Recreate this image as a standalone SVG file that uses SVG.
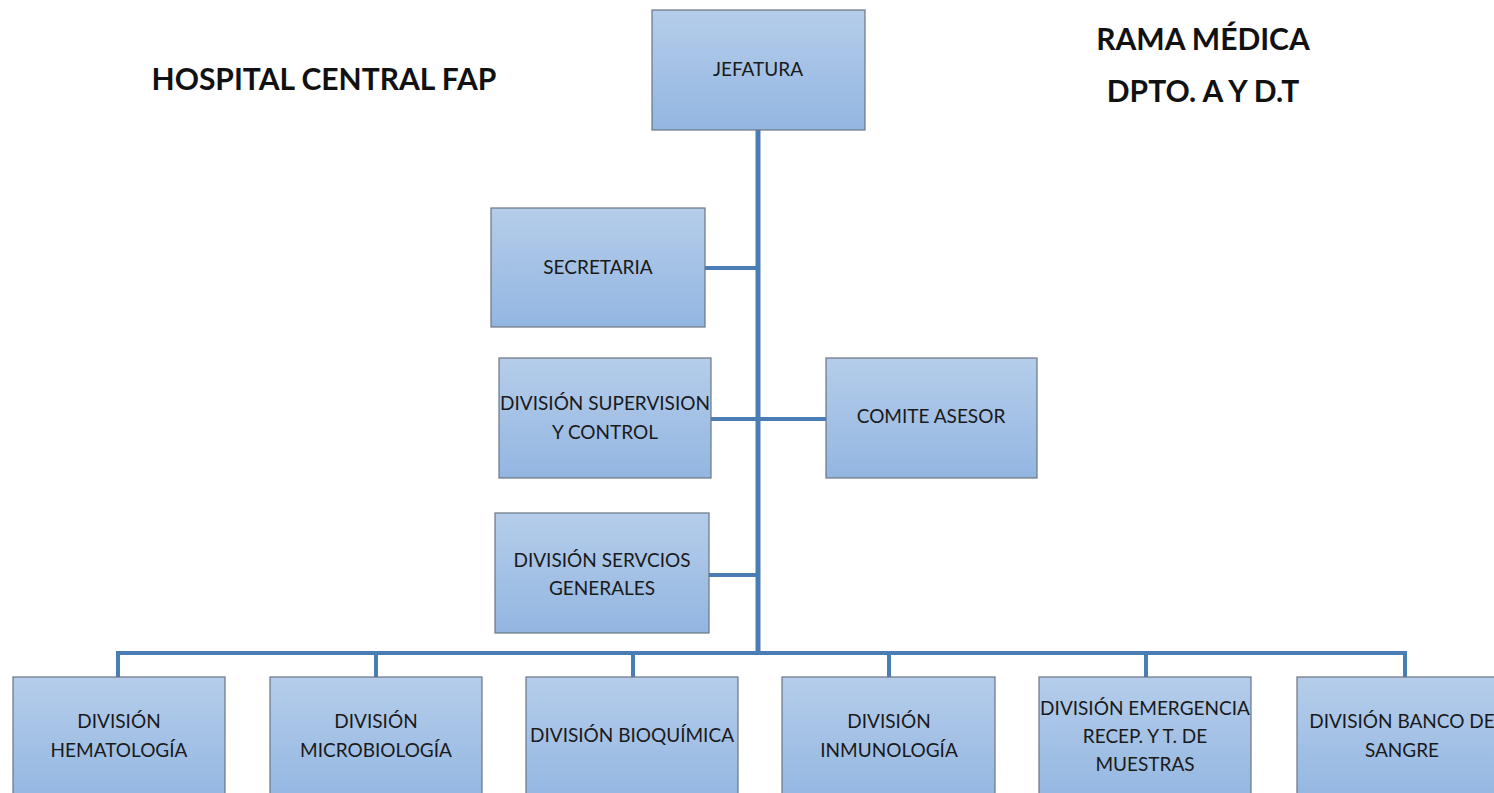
<svg xmlns="http://www.w3.org/2000/svg" width="1494" height="793" viewBox="0 0 1494 793">
<defs>
<linearGradient id="g" x1="0" y1="0" x2="0" y2="1">
<stop offset="0" stop-color="#b5cdea"/>
<stop offset="1" stop-color="#93b6e1"/>
</linearGradient>
</defs>
<style>
.box{fill:url(#g);stroke:#6a7583;stroke-width:1.2}
.t{font-family:Lato,"Open Sans","Liberation Sans",sans-serif;font-size:19px;fill:#1a1a1a;text-anchor:middle;dominant-baseline:middle}
.h{font-family:Lato,"Open Sans","Liberation Sans",sans-serif;font-size:30px;font-weight:bold;fill:#111;text-anchor:middle;dominant-baseline:middle}
.c{stroke:#4a7db3;fill:none}
</style>
<rect width="1494" height="793" fill="#fff"/>
<g id="titles">
<text class="h" x="324" y="82">HOSPITAL CENTRAL FAP</text>
<text class="h" x="1203" y="42">RAMA MÉDICA</text>
<text class="h" x="1203" y="94">DPTO. A Y D.T</text>
</g>
<g id="connectors">
<line class="c" x1="758" y1="130" x2="758" y2="655" stroke-width="5"/>
<line class="c" x1="705" y1="268" x2="758" y2="268" stroke-width="4"/>
<line class="c" x1="711" y1="419" x2="826" y2="419" stroke-width="4"/>
<line class="c" x1="709" y1="575" x2="758" y2="575" stroke-width="4"/>
<polyline class="c" points="118,677 118,653 1405,653 1405,677" stroke-width="4"/>
<line class="c" x1="376" y1="653" x2="376" y2="677" stroke-width="4"/>
<line class="c" x1="633" y1="653" x2="633" y2="677" stroke-width="4"/>
<line class="c" x1="889" y1="653" x2="889" y2="677" stroke-width="4"/>
<line class="c" x1="1146" y1="653" x2="1146" y2="677" stroke-width="4"/>
</g>
<g id="jefatura"><rect class="box" x="652" y="10" width="213" height="120"/><text class="t" x="758" y="71">JEFATURA</text></g>
<g id="secretaria"><rect class="box" x="491" y="208" width="214" height="119"/><text class="t" x="598" y="269">SECRETARIA</text></g>
<g id="supervision"><rect class="box" x="499" y="358" width="212" height="120"/><text class="t" x="605" y="405">DIVISIÓN SUPERVISION</text><text class="t" x="605" y="434">Y CONTROL</text></g>
<g id="comite"><rect class="box" x="826" y="358" width="211" height="120"/><text class="t" x="931" y="418">COMITE ASESOR</text></g>
<g id="servicios"><rect class="box" x="495" y="513" width="214" height="120"/><text class="t" x="602" y="562">DIVISIÓN SERVCIOS</text><text class="t" x="602" y="590">GENERALES</text></g>
<g id="hematologia"><rect class="box" x="13" y="677" width="212" height="125"/><text class="t" x="119" y="723">DIVISIÓN</text><text class="t" x="119" y="752">HEMATOLOGÍA</text></g>
<g id="microbiologia"><rect class="box" x="270" y="677" width="212" height="125"/><text class="t" x="376" y="723">DIVISIÓN</text><text class="t" x="376" y="752">MICROBIOLOGÍA</text></g>
<g id="bioquimica"><rect class="box" x="526" y="677" width="212" height="125"/><text class="t" x="632" y="737">DIVISIÓN BIOQUÍMICA</text></g>
<g id="inmunologia"><rect class="box" x="782" y="677" width="213" height="125"/><text class="t" x="889" y="723">DIVISIÓN</text><text class="t" x="889" y="752">INMUNOLOGÍA</text></g>
<g id="emergencia"><rect class="box" x="1039" y="677" width="212" height="125"/><text class="t" x="1145" y="710">DIVISIÓN EMERGENCIA</text><text class="t" x="1145" y="738">RECEP. Y T. DE</text><text class="t" x="1145" y="766">MUESTRAS</text></g>
<g id="banco"><rect class="box" x="1297" y="677" width="212" height="125"/><text class="t" x="1402" y="723">DIVISIÓN BANCO DE</text><text class="t" x="1402" y="752">SANGRE</text></g>
</svg>
